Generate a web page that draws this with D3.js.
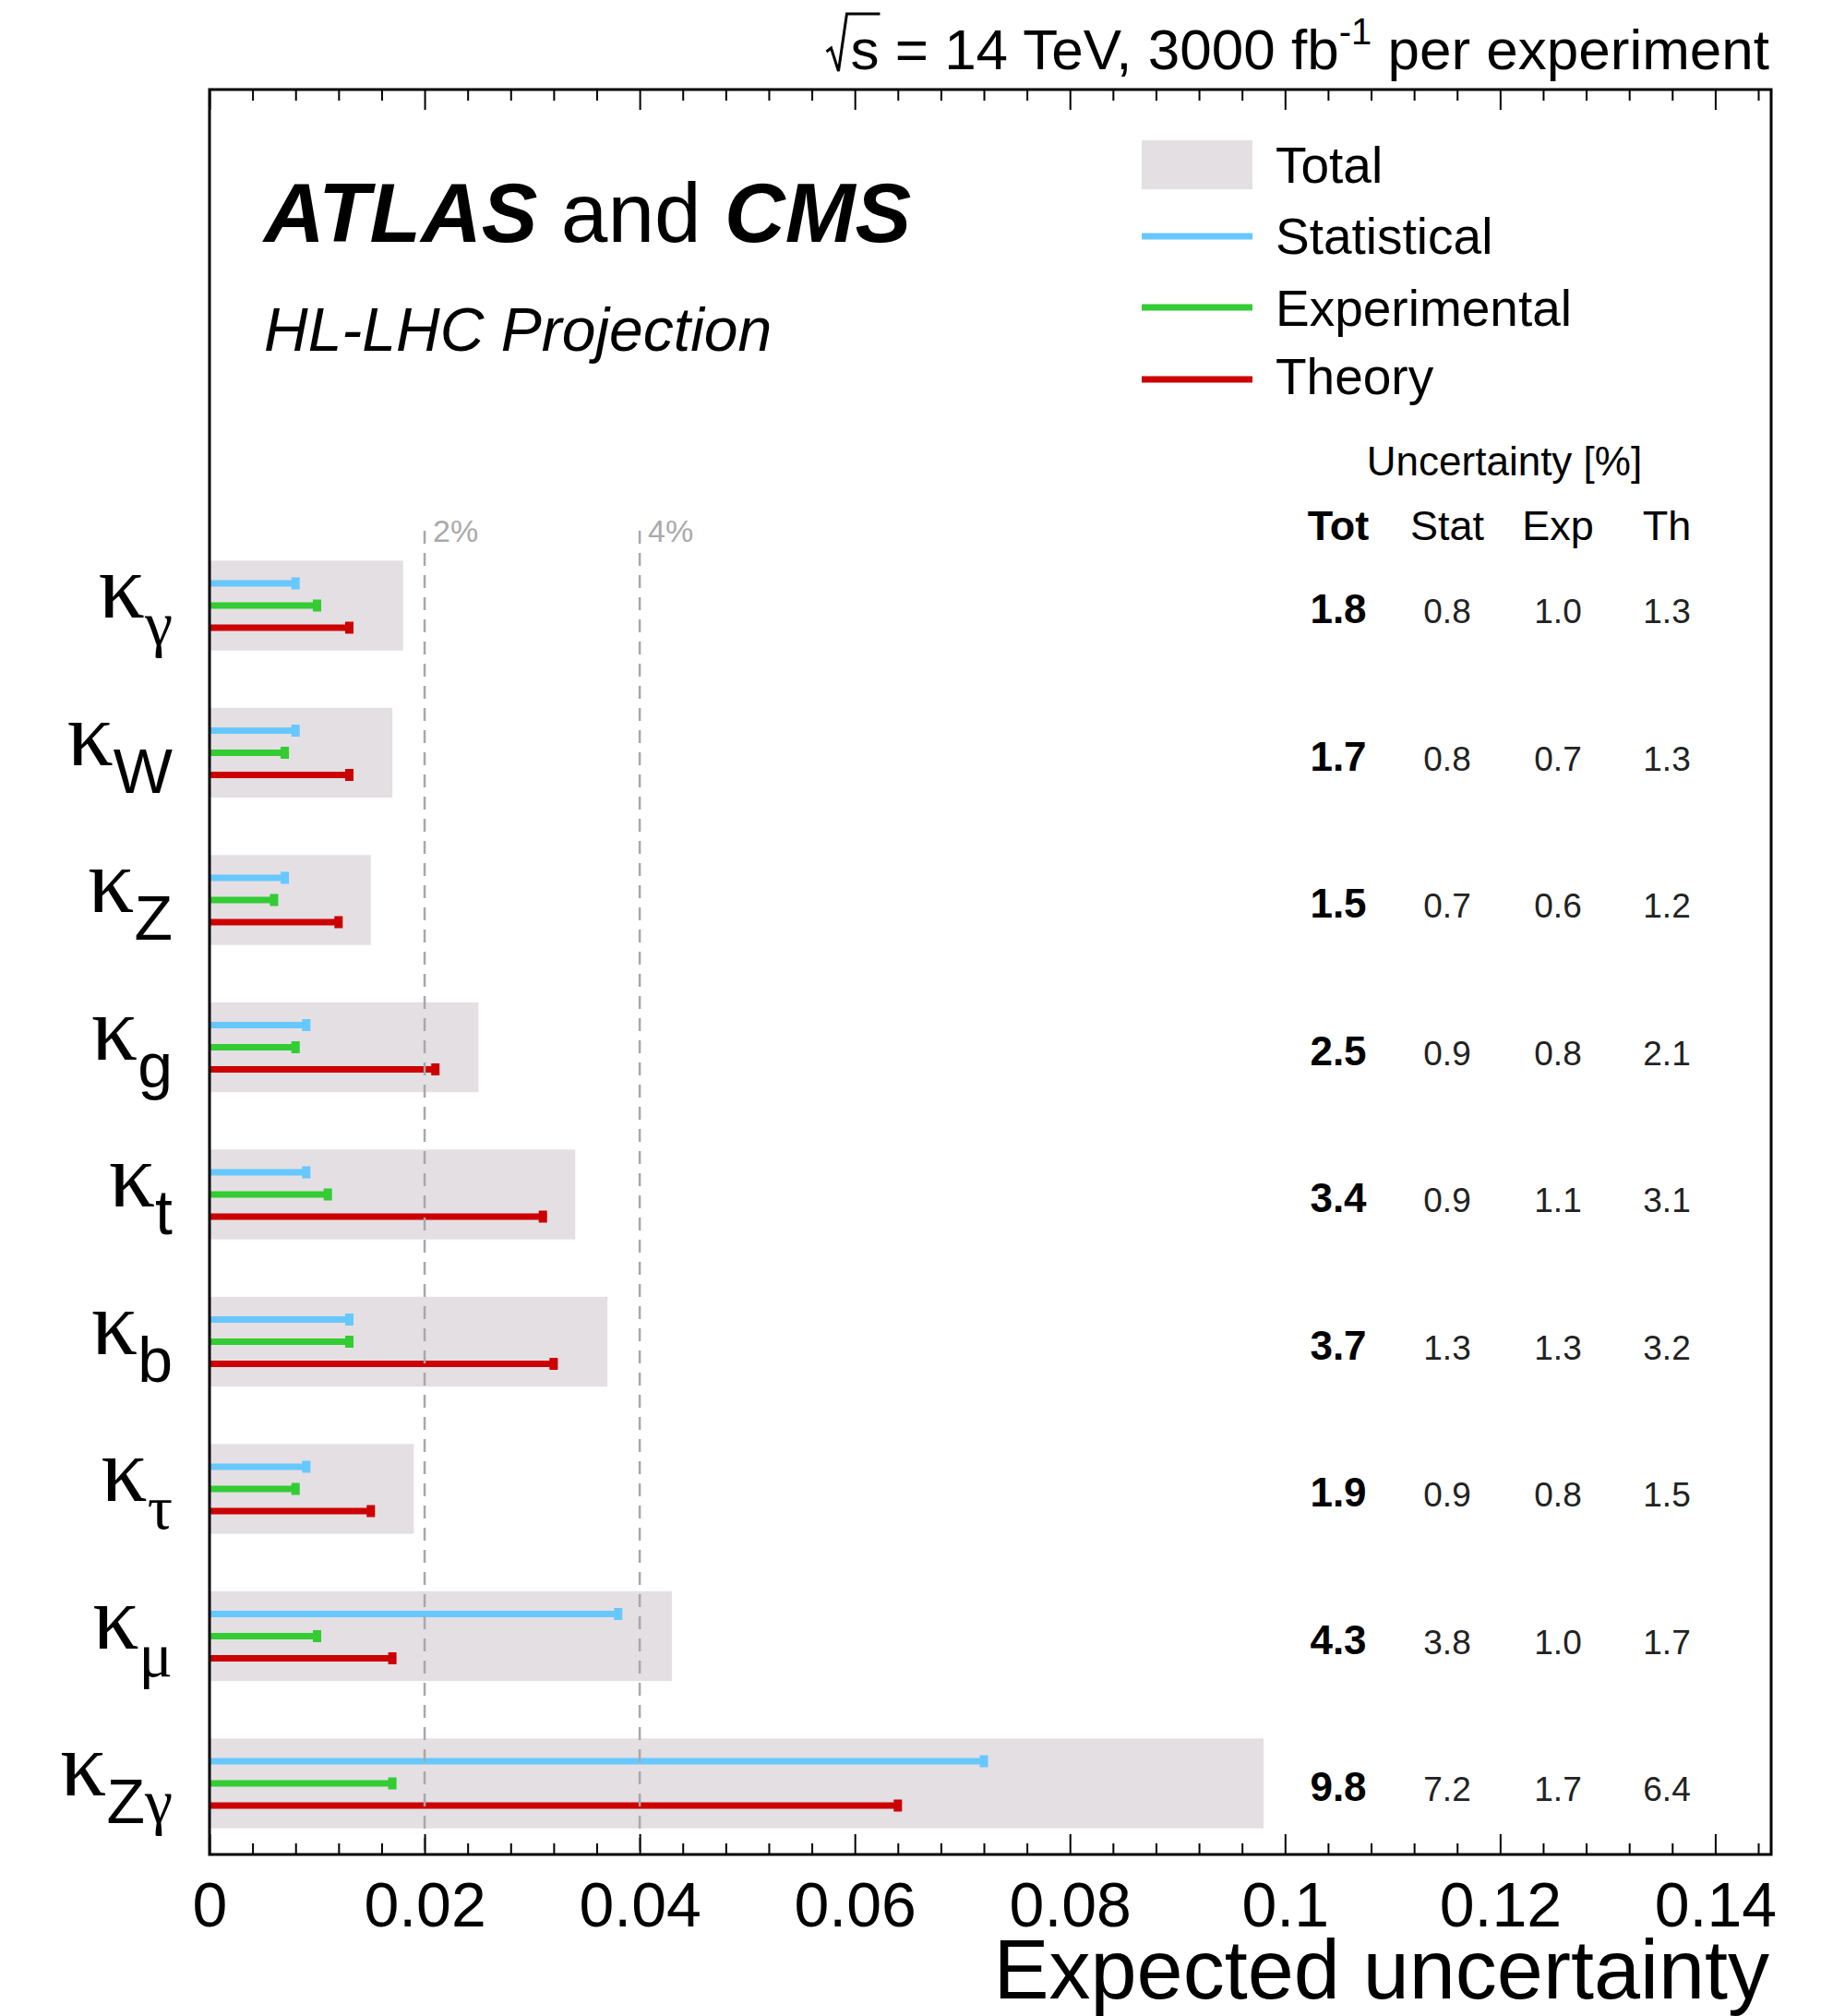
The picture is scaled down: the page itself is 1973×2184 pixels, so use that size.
<!DOCTYPE html>
<html>
<head>
<meta charset="utf-8">
<script src="https://cdn.jsdelivr.net/npm/d3@7"></script>
<style>
  body { margin: 0; background: #fff; }
</style>
</head>
<body>
<svg id="chart" width="1973" height="2184"></svg>
<script>
// Coupling modifiers (subscripts of kappa), top to bottom
const couplings = ["γ", "W", "Z", "g", "t", "b", "τ", "μ", "Zγ"];
// Expected uncertainties in percent
const totalUnc = [1.8, 1.7, 1.5, 2.5, 3.4, 3.7, 1.9, 4.3, 9.8];
const statUnc  = [0.8, 0.8, 0.7, 0.9, 0.9, 1.3, 0.9, 3.8, 7.2];
const expUnc   = [1.0, 0.7, 0.6, 0.8, 1.1, 1.3, 0.8, 1.0, 1.7];
const thUnc    = [1.3, 1.3, 1.2, 2.1, 3.1, 3.2, 1.5, 1.7, 6.4];
// Axis ticks
const majorTicks = [0, 0.02, 0.04, 0.06, 0.08, 0.10, 0.12, 0.14];
const tickLabels = ["0", "0.02", "0.04", "0.06", "0.08", "0.1", "0.12", "0.14"];
const guideValues = [0.02, 0.04];
const guideLabels = ["2%", "4%"];
// Legend / table text
const seriesNames = ["Statistical", "Experimental", "Theory"];
const columnHeads = ["Tot", "Stat", "Exp", "Th"];

const SANS = "'Liberation Sans', Arial, Helvetica, sans-serif";
const SERIF = "'Liberation Serif', 'Times New Roman', serif";
const COL = {
  total: "#e4dfe3",
  stat: "#66c8ff",
  exp: "#33cc33",
  th: "#cc0000",
  guide: "#a8a8a8"
};

const svg = d3.select("#chart");
const frame = { left: 227, right: 1919, top: 97, bottom: 2009 };

const x = d3.scaleLinear().domain([0, 0.1452]).range([frame.left, frame.right]);
const y = d3.scalePoint().domain(d3.range(couplings.length)).range([656, 1932]);
const boxH = y.step() * 0.61;

const series = [
  { key: "stat", values: statUnc, offset: -24 },
  { key: "exp", values: expUnc, offset: 0 },
  { key: "th", values: thUnc, offset: 24 }
];

// Total uncertainty boxes
svg.append("g").selectAll("rect")
  .data(totalUnc)
  .join("rect")
  .attr("x", x(0))
  .attr("y", (d, i) => y(i) - boxH / 2)
  .attr("width", d => x(d / 100) - x(0))
  .attr("height", boxH)
  .attr("fill", COL.total);

// Component bars with end markers
series.forEach(s => {
  const g = svg.append("g");
  g.selectAll("line")
    .data(s.values)
    .join("line")
    .attr("x1", x(0))
    .attr("x2", d => x(d / 100))
    .attr("y1", (d, i) => y(i) + s.offset)
    .attr("y2", (d, i) => y(i) + s.offset)
    .attr("stroke", COL[s.key])
    .attr("stroke-width", 7);
  g.selectAll("rect")
    .data(s.values)
    .join("rect")
    .attr("x", d => x(d / 100) - 4.5)
    .attr("y", (d, i) => y(i) + s.offset - 6.5)
    .attr("width", 9)
    .attr("height", 13)
    .attr("fill", COL[s.key]);
});

// Dashed guide lines at 2% and 4%
guideValues.forEach((v, k) => {
  svg.append("line")
    .attr("x1", x(v)).attr("x2", x(v))
    .attr("y1", 575).attr("y2", frame.bottom)
    .attr("stroke", COL.guide)
    .attr("stroke-width", 2.5)
    .attr("stroke-dasharray", "14,10");
  svg.append("text")
    .attr("x", x(v) + 9)
    .attr("y", 587)
    .style("font-family", SANS)
    .style("font-size", "34px")
    .attr("fill", "#aaaaaa")
    .text(guideLabels[k]);
});

// Axes: major + minor ticks on bottom and top, pointing inward
const minorTicks = d3.range(0, 37).filter(i => i % 5 !== 0).map(i => i * 0.004);

const bottomMajor = svg.append("g")
  .attr("transform", `translate(0,${frame.bottom})`)
  .call(d3.axisBottom(x).tickValues(majorTicks).tickSize(-22).tickPadding(30)
        .tickFormat((d, i) => tickLabels[i]));
const bottomMinor = svg.append("g")
  .attr("transform", `translate(0,${frame.bottom})`)
  .call(d3.axisBottom(x).tickValues(minorTicks).tickSize(-12).tickFormat(""));
const topMajor = svg.append("g")
  .attr("transform", `translate(0,${frame.top})`)
  .call(d3.axisTop(x).tickValues(majorTicks).tickSize(-22).tickFormat(""));
const topMinor = svg.append("g")
  .attr("transform", `translate(0,${frame.top})`)
  .call(d3.axisTop(x).tickValues(minorTicks).tickSize(-12).tickFormat(""));

[bottomMajor, bottomMinor, topMajor, topMinor].forEach(g => {
  g.select(".domain").remove();
  g.selectAll(".tick line").attr("stroke", "#000").attr("stroke-width", 2);
});
bottomMajor.selectAll(".tick text")
  .style("font-family", SANS)
  .style("font-size", "68px")
  .attr("fill", "#000");

// Frame
svg.append("rect")
  .attr("x", frame.left).attr("y", frame.top)
  .attr("width", frame.right - frame.left)
  .attr("height", frame.bottom - frame.top)
  .attr("fill", "none")
  .attr("stroke", "#000")
  .attr("stroke-width", 3);

// Axis title
svg.append("text")
  .attr("x", 1917).attr("y", 2165)
  .attr("text-anchor", "end")
  .style("font-family", SANS)
  .style("font-size", "90px")
  .text("Expected uncertainty");

// Kappa labels
const isGreek = c => /[\u0370-\u03FF]/.test(c);
couplings.forEach((c, i) => {
  const t = svg.append("text")
    .attr("x", 187)
    .attr("y", y(i) + 13)
    .attr("text-anchor", "end");
  t.append("tspan")
    .style("font-family", SERIF)
    .style("font-size", "100px")
    .text("κ");
  Array.from(c).forEach((ch, j) => {
    t.append("tspan")
      .attr("dy", j === 0 ? 30 : 0)
      .style("font-family", isGreek(ch) ? SERIF : SANS)
      .style("font-size", "68px")
      .text(ch);
  });
});

// Uncertainty table
const colX = [1450, 1568, 1688, 1806];
svg.append("text")
  .attr("x", 1630).attr("y", 515)
  .attr("text-anchor", "middle")
  .style("font-family", SANS)
  .style("font-size", "44px")
  .text("Uncertainty [%]");
columnHeads.forEach((h, k) => {
  svg.append("text")
    .attr("x", colX[k]).attr("y", 585)
    .attr("text-anchor", "middle")
    .style("font-family", SANS)
    .style("font-size", "45px")
    .style("font-weight", k === 0 ? "bold" : "normal")
    .text(h);
});
[totalUnc, statUnc, expUnc, thUnc].forEach((arr, k) => {
  svg.append("g").selectAll("text")
    .data(arr)
    .join("text")
    .attr("x", colX[k])
    .attr("y", (d, i) => y(i) + 19)
    .attr("text-anchor", "middle")
    .style("font-family", SANS)
    .style("font-size", k === 0 ? "44px" : "37px")
    .style("font-weight", k === 0 ? "bold" : "normal")
    .attr("fill", k === 0 ? "#000" : "#222")
    .text(d => d.toFixed(1));
});

// Legend
const legend = svg.append("g");
legend.append("rect")
  .attr("x", 1237).attr("y", 152)
  .attr("width", 120).attr("height", 53)
  .attr("fill", COL.total);
legend.append("text")
  .attr("x", 1382).attr("y", 198)
  .style("font-family", SANS).style("font-size", "55px")
  .text("Total");
const legendLineY = [256, 333, 411];
const legendTextY = [275, 353, 427];
series.forEach((s, k) => {
  legend.append("line")
    .attr("x1", 1237).attr("x2", 1357)
    .attr("y1", legendLineY[k]).attr("y2", legendLineY[k])
    .attr("stroke", COL[s.key])
    .attr("stroke-width", 7);
  legend.append("text")
    .attr("x", 1382).attr("y", legendTextY[k])
    .style("font-family", SANS).style("font-size", "55px")
    .text(seriesNames[k]);
});

// Experiment labels
const atlas = svg.append("text")
  .attr("x", 286).attr("y", 262)
  .style("font-family", SANS)
  .style("font-size", "91px");
atlas.append("tspan").style("font-weight", "bold").style("font-style", "italic").text("ATLAS");
atlas.append("tspan").text(" and ");
atlas.append("tspan").style("font-weight", "bold").style("font-style", "italic").text("CMS");

svg.append("text")
  .attr("x", 286).attr("y", 380)
  .style("font-family", SANS)
  .style("font-size", "66px")
  .style("font-style", "italic")
  .text("HL-LHC Projection");

// Energy / luminosity header with a drawn radical sign
const header = svg.append("text")
  .attr("x", 1917).attr("y", 75)
  .attr("text-anchor", "end")
  .style("font-family", SANS)
  .style("font-size", "62px");
header.append("tspan").text("s = 14 TeV, 3000 fb");
header.append("tspan").attr("dy", -27).style("font-size", "40px").text("-1");
header.append("tspan").attr("dy", 27).text(" per experiment");

const sBox = header.node().getExtentOfChar(0);
const sx = sBox.x;
const sw = sBox.width;
svg.append("path")
  .attr("d", `M${sx - 26},56 L${sx - 21},52 L${sx - 13},77 L${sx - 4},15 L${sx + sw + 1},15`)
  .attr("fill", "none")
  .attr("stroke", "#000")
  .attr("stroke-width", 3);
</script>
</body>
</html>
